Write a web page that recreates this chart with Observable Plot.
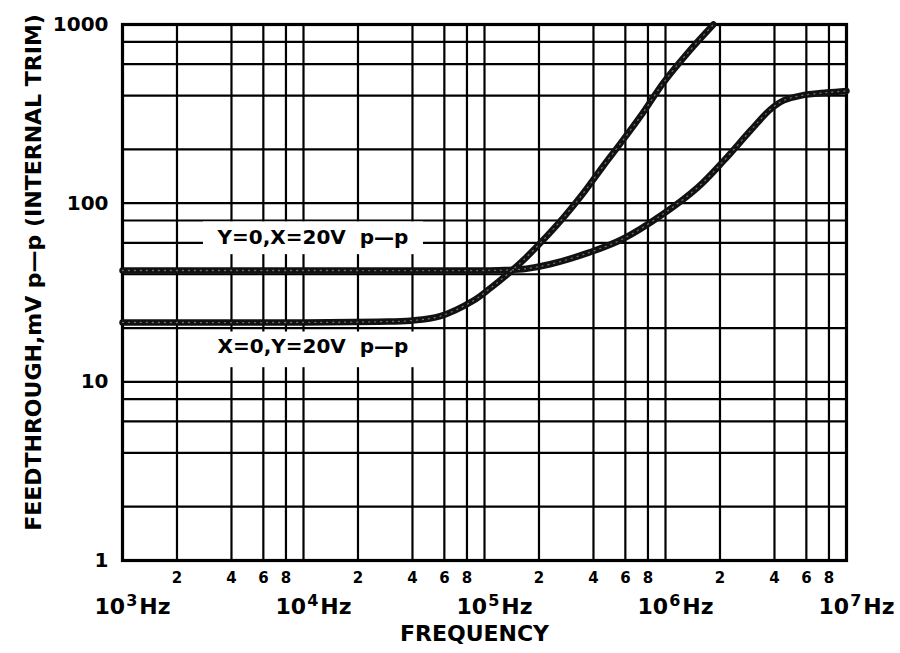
<!DOCTYPE html>
<html>
<head>
<meta charset="utf-8">
<script src="https://cdn.jsdelivr.net/npm/d3@7"></script>
<script src="https://cdn.jsdelivr.net/npm/@observablehq/plot@0.6"></script>
<style>
  html, body { margin: 0; padding: 0; background: #fff; }
  #chart { width: 900px; height: 653px; }
</style>
</head>
<body>
<div id="chart"></div>
<script>
// ---- data ----
// Curve "Y=0,X=20V p-p"
const freqA = [1e3, 1e4, 1e5, 1.3e5, 1.7e5, 2.3e5, 3.8e5, 5.8e5, 9.7e5, 1.5e6, 2.1e6, 2.95e6, 3.8e6, 4.5e6, 5.6e6, 7.8e6, 1e7];
const feedA = [42, 42, 42, 42.2, 43, 45.5, 53, 63, 87, 122, 173, 255, 335, 376, 400, 416, 425];
// Curve "X=0,Y=20V p-p"
const freqB = [1e3, 1e4, 2.6e4, 3.9e4, 5.7e4, 8.7e4, 1.08e5, 1.34e5, 1.64e5, 2.04e5, 2.73e5, 3.52e5, 4.5e5, 5.6e5, 7.5e5, 9.7e5, 1.32e6, 1.84e6];
const feedB = [21.5, 21.5, 21.7, 22, 23.3, 28.5, 33.5, 40, 48, 60, 83, 114, 160, 214, 320, 470, 690, 1000];

// curve annotations (anchored in data units) and the blank band behind each
const annoLabels = ["Y=0,X=20V\u00A0\u00A0p\u2014p", "X=0,Y=20V\u00A0\u00A0p\u2014p"];
const annoFreq = [3.35e3, 3.35e3];
const annoFeed = [64, 15.8];
const annoBandF1 = [2.8e3, 2.8e3];
const annoBandF2 = [4.6e4, 4.6e4];
const annoBandV1 = [51.5, 12.0];
const annoBandV2 = [78.5, 19.0];

// axes / grid
const decadeExps = [3, 4, 5, 6, 7];
const gridMults = [1, 2, 4, 6, 8];
const minorMults = [2, 4, 6, 8];
const yTickValues = [1, 10, 100, 1000];
const yTickLabels = ["1", "10", "100", "1000"];
const decadeSup = ["3", "4", "5", "6", "7"];
const xTitle = "FREQUENCY";
const yTitle = "FEEDTHROUGH,mV p\u2014p (INTERNAL TRIM)";

// ---- build tables ----
const seriesA = freqA.map((f, i) => ({f, v: feedA[i]}));
const seriesB = freqB.map((f, i) => ({f, v: feedB[i]}));
const annos = annoLabels.map((t, i) => ({t, f: annoFreq[i], v: annoFeed[i],
  f1: annoBandF1[i], f2: annoBandF2[i], v1: annoBandV1[i], v2: annoBandV2[i]}));

const xGrid = [];
decadeExps.slice(0, -1).forEach(e => gridMults.forEach(m => xGrid.push(m * 10 ** e)));
xGrid.push(10 ** decadeExps[decadeExps.length - 1]);
const yGrid = [];
[0, 1, 2].forEach(e => gridMults.forEach(m => yGrid.push(m * 10 ** e)));
yGrid.push(1000);

const minorTicks = [];
decadeExps.slice(0, -1).forEach(e => minorMults.forEach(m => minorTicks.push({value: m * 10 ** e, label: String(m)})));
const decadeTicks = decadeExps.map((e, i) => ({value: 10 ** e, label: "10^" + decadeSup[i] + "Hz"}));
const yTicks = yTickValues.map((v, i) => ({v, label: yTickLabels[i]}));

const font = "DejaVu Sans";

const chart = Plot.plot({
  width: 900,
  height: 653,
  marginLeft: 122,
  marginRight: 54,
  marginTop: 24,
  marginBottom: 93,
  style: {fontFamily: font, fontWeight: "bold", background: "#fff", color: "#000"},
  x: {type: "log", domain: [1e3, 1e7], axis: null},
  y: {type: "log", domain: [1, 1000], axis: null},
  marks: [
    Plot.ruleX(xGrid, {stroke: "#000", strokeWidth: 2.2}),
    Plot.ruleY(yGrid, {stroke: "#000", strokeWidth: 2.2}),
    Plot.frame({stroke: "#000", strokeWidth: 3.2}),
    // blank bands behind annotations
    Plot.rect(annos, {x1: "f1", x2: "f2", y1: "v1", y2: "v2", fill: "#fff"}),
    Plot.text(annos, {x: "f", y: "v", text: "t", textAnchor: "start", fontSize: 20, fontWeight: "bold", fill: "#000"}),
    // curves
    Plot.line(seriesA, {x: "f", y: "v", stroke: "#111", strokeWidth: 6.5, curve: "catmull-rom"}),
    Plot.line(seriesB, {x: "f", y: "v", stroke: "#111", strokeWidth: 6.5, curve: "catmull-rom"}),
    Plot.line(seriesA, {x: "f", y: "v", stroke: "#fff", strokeOpacity: 0.4, strokeWidth: 1.3, strokeDasharray: "1 5", curve: "catmull-rom"}),
    Plot.line(seriesB, {x: "f", y: "v", stroke: "#fff", strokeOpacity: 0.4, strokeWidth: 1.3, strokeDasharray: "1 5", curve: "catmull-rom"}),
    // y tick labels
    Plot.text(yTicks, {y: "v", text: "label", frameAnchor: "left", textAnchor: "end", dx: -14, fontSize: 20, fontWeight: "bold", fill: "#000"}),
    // x minor tick labels
    Plot.text(minorTicks, {x: "value", text: "label", frameAnchor: "bottom", textAnchor: "middle", lineAnchor: "top", dy: 12, fontSize: 15, fontWeight: "bold", fill: "#000"}),
    // x decade labels
    Plot.text(decadeTicks, {x: "value", text: "label", frameAnchor: "bottom", textAnchor: "middle", lineAnchor: "top", dy: 38, dx: 10, fontSize: 22, fontWeight: "bold", fill: "#000"}),
    // axis titles
    Plot.text([xTitle], {frameAnchor: "bottom", textAnchor: "middle", lineAnchor: "top", dy: 65, dx: -10, fontSize: 22, fontWeight: "bold", fill: "#000"}),
    Plot.text([yTitle], {frameAnchor: "left", textAnchor: "middle", rotate: -90, lineAnchor: "top", dx: -97, dy: -20, fontSize: 22, fontWeight: "bold", fill: "#000"})
  ]
});

// turn "10^nHz" into 10 + raised exponent + Hz
d3.select(chart).selectAll("text").each(function () {
  const t = this.textContent;
  const m = /^10\^(\d)Hz$/.exec(t);
  if (!m) return;
  const sel = d3.select(this);
  sel.text(null);
  sel.append("tspan").text("10");
  sel.append("tspan").attr("font-size", 16).attr("dy", -8).attr("dx", 1).text(m[1]);
  sel.append("tspan").attr("dy", 8).attr("dx", 2).text("Hz");
});

document.getElementById("chart").appendChild(chart);
</script>
</body>
</html>
